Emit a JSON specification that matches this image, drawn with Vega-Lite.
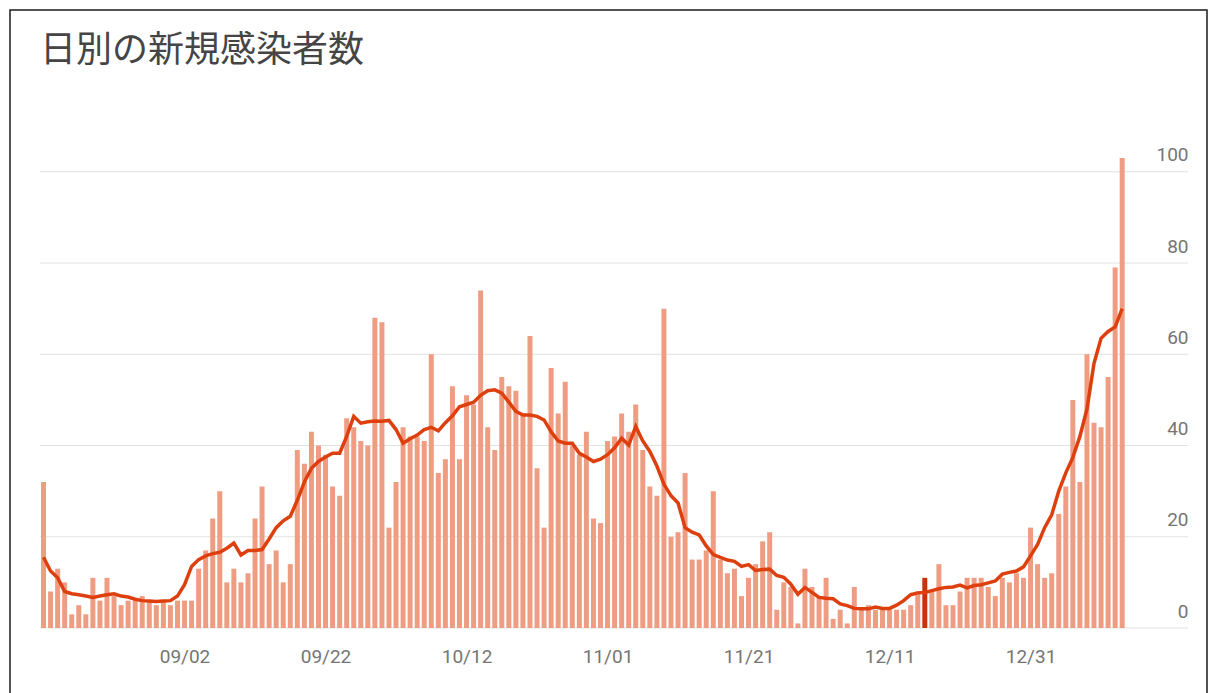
{
  "$schema": "https://vega.github.io/schema/vega-lite/v6.json",
  "width": 1197,
  "height": 690,
  "autosize": {"type": "none"},
  "padding": {"left": 10, "top": 10, "right": 3, "bottom": 0},
  "background": "white",
  "title": {"text": "日別の新規感染者数", "anchor": "start", "frame": "group", "font": "Noto Sans CJK JP", "fontSize": 36, "fontWeight": "normal", "color": "#454545", "offset": -60, "dx": 30},
  "config": {"view": {"stroke": "#1a1a1a", "strokeWidth": 1.5}},
  "data": {"values": [
    {"date": "2020-08-13", "cases": 32, "avg": 15.5},
    {"date": "2020-08-14", "cases": 8, "avg": 12.5},
    {"date": "2020-08-15", "cases": 13, "avg": 11},
    {"date": "2020-08-16", "cases": 10, "avg": 8},
    {"date": "2020-08-17", "cases": 3, "avg": 7.5},
    {"date": "2020-08-18", "cases": 5, "avg": 7.3},
    {"date": "2020-08-19", "cases": 3, "avg": 7},
    {"date": "2020-08-20", "cases": 11, "avg": 6.7},
    {"date": "2020-08-21", "cases": 6, "avg": 7},
    {"date": "2020-08-22", "cases": 11, "avg": 7.3},
    {"date": "2020-08-23", "cases": 7, "avg": 7.5},
    {"date": "2020-08-24", "cases": 5, "avg": 7},
    {"date": "2020-08-25", "cases": 6, "avg": 6.8},
    {"date": "2020-08-26", "cases": 6, "avg": 6.3},
    {"date": "2020-08-27", "cases": 7, "avg": 6},
    {"date": "2020-08-28", "cases": 6, "avg": 5.9},
    {"date": "2020-08-29", "cases": 5, "avg": 5.8},
    {"date": "2020-08-30", "cases": 6, "avg": 5.9},
    {"date": "2020-08-31", "cases": 5, "avg": 6},
    {"date": "2020-09-01", "cases": 6, "avg": 7},
    {"date": "2020-09-02", "cases": 6, "avg": 9.5},
    {"date": "2020-09-03", "cases": 6, "avg": 13.5},
    {"date": "2020-09-04", "cases": 13, "avg": 15},
    {"date": "2020-09-05", "cases": 17, "avg": 15.8},
    {"date": "2020-09-06", "cases": 24, "avg": 16.3},
    {"date": "2020-09-07", "cases": 30, "avg": 16.6},
    {"date": "2020-09-08", "cases": 10, "avg": 17.5},
    {"date": "2020-09-09", "cases": 13, "avg": 18.6},
    {"date": "2020-09-10", "cases": 10, "avg": 16},
    {"date": "2020-09-11", "cases": 12, "avg": 17},
    {"date": "2020-09-12", "cases": 24, "avg": 17},
    {"date": "2020-09-13", "cases": 31, "avg": 17.2},
    {"date": "2020-09-14", "cases": 14, "avg": 19.5},
    {"date": "2020-09-15", "cases": 17, "avg": 22},
    {"date": "2020-09-16", "cases": 10, "avg": 23.5},
    {"date": "2020-09-17", "cases": 14, "avg": 24.5},
    {"date": "2020-09-18", "cases": 39, "avg": 28},
    {"date": "2020-09-19", "cases": 36, "avg": 32},
    {"date": "2020-09-20", "cases": 43, "avg": 35},
    {"date": "2020-09-21", "cases": 40, "avg": 36.5},
    {"date": "2020-09-22", "cases": 38, "avg": 37.5},
    {"date": "2020-09-23", "cases": 31, "avg": 38.3},
    {"date": "2020-09-24", "cases": 29, "avg": 38.3},
    {"date": "2020-09-25", "cases": 46, "avg": 42},
    {"date": "2020-09-26", "cases": 44, "avg": 46.4},
    {"date": "2020-09-27", "cases": 41, "avg": 44.9},
    {"date": "2020-09-28", "cases": 40, "avg": 45.2},
    {"date": "2020-09-29", "cases": 68, "avg": 45.4},
    {"date": "2020-09-30", "cases": 67, "avg": 45.3},
    {"date": "2020-10-01", "cases": 22, "avg": 45.5},
    {"date": "2020-10-02", "cases": 32, "avg": 43.5},
    {"date": "2020-10-03", "cases": 44, "avg": 40.5},
    {"date": "2020-10-04", "cases": 42, "avg": 41.5},
    {"date": "2020-10-05", "cases": 42, "avg": 42.3},
    {"date": "2020-10-06", "cases": 41, "avg": 43.5},
    {"date": "2020-10-07", "cases": 60, "avg": 44},
    {"date": "2020-10-08", "cases": 34, "avg": 43.2},
    {"date": "2020-10-09", "cases": 37, "avg": 45},
    {"date": "2020-10-10", "cases": 53, "avg": 46.5},
    {"date": "2020-10-11", "cases": 37, "avg": 48.5},
    {"date": "2020-10-12", "cases": 51, "avg": 49},
    {"date": "2020-10-13", "cases": 49, "avg": 49.5},
    {"date": "2020-10-14", "cases": 74, "avg": 51},
    {"date": "2020-10-15", "cases": 44, "avg": 52},
    {"date": "2020-10-16", "cases": 39, "avg": 52.2},
    {"date": "2020-10-17", "cases": 55, "avg": 51.5},
    {"date": "2020-10-18", "cases": 53, "avg": 49.5},
    {"date": "2020-10-19", "cases": 52, "avg": 47.5},
    {"date": "2020-10-20", "cases": 47, "avg": 46.7},
    {"date": "2020-10-21", "cases": 64, "avg": 46.7},
    {"date": "2020-10-22", "cases": 35, "avg": 46.4},
    {"date": "2020-10-23", "cases": 22, "avg": 45.6},
    {"date": "2020-10-24", "cases": 57, "avg": 43},
    {"date": "2020-10-25", "cases": 47, "avg": 41},
    {"date": "2020-10-26", "cases": 54, "avg": 40.5},
    {"date": "2020-10-27", "cases": 40, "avg": 40.5},
    {"date": "2020-10-28", "cases": 38, "avg": 38.3},
    {"date": "2020-10-29", "cases": 43, "avg": 37.5},
    {"date": "2020-10-30", "cases": 24, "avg": 36.5},
    {"date": "2020-10-31", "cases": 23, "avg": 37},
    {"date": "2020-11-01", "cases": 41, "avg": 38},
    {"date": "2020-11-02", "cases": 42, "avg": 39.5},
    {"date": "2020-11-03", "cases": 47, "avg": 41.6},
    {"date": "2020-11-04", "cases": 43, "avg": 40.1},
    {"date": "2020-11-05", "cases": 49, "avg": 44.2},
    {"date": "2020-11-06", "cases": 39, "avg": 41},
    {"date": "2020-11-07", "cases": 31, "avg": 38.7},
    {"date": "2020-11-08", "cases": 29, "avg": 35.5},
    {"date": "2020-11-09", "cases": 70, "avg": 31.5},
    {"date": "2020-11-10", "cases": 20, "avg": 29},
    {"date": "2020-11-11", "cases": 21, "avg": 27.4},
    {"date": "2020-11-12", "cases": 34, "avg": 22},
    {"date": "2020-11-13", "cases": 15, "avg": 21},
    {"date": "2020-11-14", "cases": 15, "avg": 20.4},
    {"date": "2020-11-15", "cases": 17, "avg": 18},
    {"date": "2020-11-16", "cases": 30, "avg": 16.1},
    {"date": "2020-11-17", "cases": 15, "avg": 15.5},
    {"date": "2020-11-18", "cases": 12, "avg": 14.9},
    {"date": "2020-11-19", "cases": 13, "avg": 14.6},
    {"date": "2020-11-20", "cases": 7, "avg": 13.5},
    {"date": "2020-11-21", "cases": 11, "avg": 13.9},
    {"date": "2020-11-22", "cases": 14, "avg": 12.6},
    {"date": "2020-11-23", "cases": 19, "avg": 12.8},
    {"date": "2020-11-24", "cases": 21, "avg": 12.9},
    {"date": "2020-11-25", "cases": 4, "avg": 11.5},
    {"date": "2020-11-26", "cases": 10, "avg": 11.1},
    {"date": "2020-11-27", "cases": 9, "avg": 9.6},
    {"date": "2020-11-28", "cases": 1, "avg": 7.4},
    {"date": "2020-11-29", "cases": 13, "avg": 8.9},
    {"date": "2020-11-30", "cases": 9, "avg": 7.8},
    {"date": "2020-12-01", "cases": 7, "avg": 6.7},
    {"date": "2020-12-02", "cases": 11, "avg": 6.5},
    {"date": "2020-12-03", "cases": 2, "avg": 6.4},
    {"date": "2020-12-04", "cases": 4, "avg": 5.3},
    {"date": "2020-12-05", "cases": 1, "avg": 4.9},
    {"date": "2020-12-06", "cases": 9, "avg": 4.3},
    {"date": "2020-12-07", "cases": 4, "avg": 4.2},
    {"date": "2020-12-08", "cases": 5, "avg": 4.2},
    {"date": "2020-12-09", "cases": 4, "avg": 4.6},
    {"date": "2020-12-10", "cases": 4, "avg": 4.3},
    {"date": "2020-12-11", "cases": 4, "avg": 4.3},
    {"date": "2020-12-12", "cases": 4, "avg": 5},
    {"date": "2020-12-13", "cases": 4, "avg": 6},
    {"date": "2020-12-14", "cases": 5, "avg": 7.3},
    {"date": "2020-12-15", "cases": 8, "avg": 7.7},
    {"date": "2020-12-16", "cases": 11, "avg": 7.8},
    {"date": "2020-12-17", "cases": 8, "avg": 8.2},
    {"date": "2020-12-18", "cases": 14, "avg": 8.6},
    {"date": "2020-12-19", "cases": 5, "avg": 8.9},
    {"date": "2020-12-20", "cases": 5, "avg": 9},
    {"date": "2020-12-21", "cases": 8, "avg": 9.4},
    {"date": "2020-12-22", "cases": 11, "avg": 8.8},
    {"date": "2020-12-23", "cases": 11, "avg": 9.3},
    {"date": "2020-12-24", "cases": 11, "avg": 9.5},
    {"date": "2020-12-25", "cases": 9, "avg": 9.9},
    {"date": "2020-12-26", "cases": 7, "avg": 10.3},
    {"date": "2020-12-27", "cases": 11, "avg": 11.8},
    {"date": "2020-12-28", "cases": 10, "avg": 12.2},
    {"date": "2020-12-29", "cases": 12, "avg": 12.5},
    {"date": "2020-12-30", "cases": 11, "avg": 13.4},
    {"date": "2020-12-31", "cases": 22, "avg": 15.8},
    {"date": "2021-01-01", "cases": 14, "avg": 18.3},
    {"date": "2021-01-02", "cases": 11, "avg": 22},
    {"date": "2021-01-03", "cases": 12, "avg": 24.8},
    {"date": "2021-01-04", "cases": 25, "avg": 30},
    {"date": "2021-01-05", "cases": 31, "avg": 34},
    {"date": "2021-01-06", "cases": 50, "avg": 37.4},
    {"date": "2021-01-07", "cases": 32, "avg": 42},
    {"date": "2021-01-08", "cases": 60, "avg": 48},
    {"date": "2021-01-09", "cases": 45, "avg": 58},
    {"date": "2021-01-10", "cases": 44, "avg": 63.5},
    {"date": "2021-01-11", "cases": 55, "avg": 65},
    {"date": "2021-01-12", "cases": 79, "avg": 66},
    {"date": "2021-01-13", "cases": 103, "avg": 70}
  ]},
  "layer": [
    {
      "data": {"values": [{"g": 0}, {"g": 20}, {"g": 40}, {"g": 60}, {"g": 80}, {"g": 100}]},
      "mark": {"type": "rule", "color": "#e2e2e2", "strokeWidth": 1},
      "encoding": {
        "x": {"datum": {"year": 2020, "month": 8, "date": 12, "hours": 12, "utc": true}, "type": "temporal",
          "scale": {"type": "utc", "domain": [{"year": 2020, "month": 8, "date": 12, "hours": 12, "utc": true}, {"year": 2021, "month": 1, "date": 22, "hours": 8, "utc": true}], "range": [30, 1178], "padding": 0},
          "axis": {"values": [{"year": 2020, "month": 9, "date": 2, "utc": true}, {"year": 2020, "month": 9, "date": 22, "utc": true}, {"year": 2020, "month": 10, "date": 12, "utc": true}, {"year": 2020, "month": 11, "date": 1, "utc": true}, {"year": 2020, "month": 11, "date": 21, "utc": true}, {"year": 2020, "month": 12, "date": 11, "utc": true}, {"year": 2020, "month": 12, "date": 31, "utc": true}], "format": "%m/%d", "title": null, "grid": false, "domain": false, "ticks": false, "labelPadding": 19, "offset": -72, "labelFont": "Roboto", "labelFontSize": 19, "labelColor": "#757575", "labelFlush": false, "labelOverlap": false}},
        "x2": {"datum": {"year": 2021, "month": 1, "date": 22, "hours": 8, "utc": true}},
        "y": {"field": "g", "type": "quantitative",
          "scale": {"domain": [0, 105], "nice": false, "range": [618, 139]},
          "axis": {"orient": "right", "values": [0, 20, 40, 60, 80, 100], "title": null, "grid": false, "domain": false, "ticks": false, "offset": -19, "labelPadding": 0, "labelAlign": "right", "labelBaseline": "alphabetic", "labelOffset": -11, "labelFont": "Roboto", "labelFontSize": 19, "labelColor": "#757575"}}
      }
    },
    {
      "mark": {"type": "bar", "width": 5},
      "encoding": {
        "x": {"field": "date", "type": "temporal",
          "scale": {"type": "utc", "domain": [{"year": 2020, "month": 8, "date": 12, "hours": 12, "utc": true}, {"year": 2021, "month": 1, "date": 22, "hours": 8, "utc": true}], "range": [30, 1178], "padding": 0},
          "axis": {"values": [{"year": 2020, "month": 9, "date": 2, "utc": true}, {"year": 2020, "month": 9, "date": 22, "utc": true}, {"year": 2020, "month": 10, "date": 12, "utc": true}, {"year": 2020, "month": 11, "date": 1, "utc": true}, {"year": 2020, "month": 11, "date": 21, "utc": true}, {"year": 2020, "month": 12, "date": 11, "utc": true}, {"year": 2020, "month": 12, "date": 31, "utc": true}], "format": "%m/%d", "title": null, "grid": false, "domain": false, "ticks": false, "labelPadding": 19, "offset": -72, "labelFont": "Roboto", "labelFontSize": 19, "labelColor": "#757575", "labelFlush": false, "labelOverlap": false}},
        "y": {"field": "cases", "type": "quantitative",
          "scale": {"domain": [0, 105], "nice": false, "range": [618, 139]},
          "axis": {"orient": "right", "values": [0, 20, 40, 60, 80, 100], "title": null, "grid": false, "domain": false, "ticks": false, "offset": -19, "labelPadding": 0, "labelAlign": "right", "labelBaseline": "alphabetic", "labelOffset": -11, "labelFont": "Roboto", "labelFontSize": 19, "labelColor": "#757575"}},
        "color": {"condition": {"test": "utcmonth(datum.date) == 11 && utcdate(datum.date) == 16", "value": "#C9320A"}, "value": "#EF9D82"}
      }
    },
    {
      "mark": {"type": "line", "color": "#DE3F0E", "strokeWidth": 3.5},
      "encoding": {
        "x": {"field": "date", "type": "temporal",
          "scale": {"type": "utc", "domain": [{"year": 2020, "month": 8, "date": 12, "hours": 12, "utc": true}, {"year": 2021, "month": 1, "date": 22, "hours": 8, "utc": true}], "range": [30, 1178], "padding": 0},
          "axis": {"values": [{"year": 2020, "month": 9, "date": 2, "utc": true}, {"year": 2020, "month": 9, "date": 22, "utc": true}, {"year": 2020, "month": 10, "date": 12, "utc": true}, {"year": 2020, "month": 11, "date": 1, "utc": true}, {"year": 2020, "month": 11, "date": 21, "utc": true}, {"year": 2020, "month": 12, "date": 11, "utc": true}, {"year": 2020, "month": 12, "date": 31, "utc": true}], "format": "%m/%d", "title": null, "grid": false, "domain": false, "ticks": false, "labelPadding": 19, "offset": -72, "labelFont": "Roboto", "labelFontSize": 19, "labelColor": "#757575", "labelFlush": false, "labelOverlap": false}},
        "y": {"field": "avg", "type": "quantitative",
          "scale": {"domain": [0, 105], "nice": false, "range": [618, 139]},
          "axis": {"orient": "right", "values": [0, 20, 40, 60, 80, 100], "title": null, "grid": false, "domain": false, "ticks": false, "offset": -19, "labelPadding": 0, "labelAlign": "right", "labelBaseline": "alphabetic", "labelOffset": -11, "labelFont": "Roboto", "labelFontSize": 19, "labelColor": "#757575"}}
      }
    }
  ]
}
